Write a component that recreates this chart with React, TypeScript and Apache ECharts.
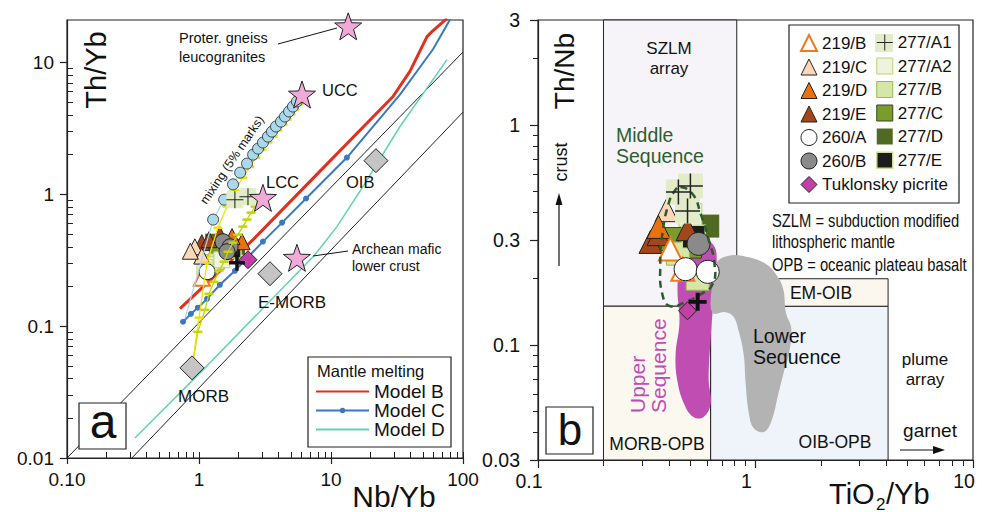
import React, { useEffect, useRef } from 'react';
import * as echarts from 'echarts';

const L = (v: number) => Math.log10(v);
const FONT = '"Liberation Sans", Arial, Helvetica, sans-serif';

// ================= Panel (a): Th/Yb vs Nb/Yb =================
const aNbYbTicks = [0.1, 1, 10, 100];
const aNbYbTickText = ['0.10', '1', '10', '100'];
const aThYbTicks = [0.01, 0.1, 1, 10];
const aThYbTickText = ['0.01', '0.1', '1', '10'];
const aNbYbRange = [0.1, 100];
const aThYbRange = [0.01, 21];

const arrayUpperBound = [[0.1, 0.01], [100, 12]];
const arrayLowerBound = [[0.31, 0.01], [100, 4.2]];

const modelB = [[0.718, 0.136], [2.57, 0.453], [8.26, 1.5], [29.5, 5.52], [39.6, 8.55], [53.4, 15.7], [57.3, 16.9], [75.7, 21.6]];
const modelCDots = [[0.757, 0.108], [0.869, 0.124], [0.98, 0.138], [1.15, 0.161], [1.44, 0.206], [1.87, 0.263], [3.05, 0.438], [4.26, 0.61], [6.47, 0.93], [13.2, 1.9]];
const modelCUpper = [[33.3, 5.7], [59.3, 12.6], [79.8, 21.2]];
const modelD = [[0.327, 0.0142], [1.15, 0.05], [7.5, 0.345], [11.1, 0.569], [17.5, 1.15], [33.3, 3.27], [75.7, 10.5]];

const mixUccStart = [0.783, 0.114];
const mixUccCircles = [[1.28, 0.643], [1.55, 0.911], [1.81, 1.19], [2.05, 1.46], [2.31, 1.71], [2.57, 2.0], [2.8, 2.22], [3.05, 2.47], [3.33, 2.74], [3.57, 2.99], [3.83, 3.27], [4.18, 3.56], [4.48, 3.89], [4.81, 4.25], [5.15, 4.63], [5.52, 5.06], [6.03, 5.52]];
const mixMorbUccMarks = [[1.0, 0.116], [1.15, 0.303], [1.39, 0.558], [1.63, 0.807], [1.87, 1.07], [2.15, 1.34], [2.43, 1.62], [2.7, 1.9], [3.0, 2.18], [3.33, 2.47], [3.64, 2.74], [3.96, 3.05], [4.33, 3.38], [4.64, 3.69], [4.98, 4.03], [5.33, 4.4], [5.72, 4.8], [6.14, 5.24]];
const mixMorbLccMarks = [[0.98, 0.0906], [1.11, 0.133], [1.19, 0.176], [1.3, 0.217], [1.42, 0.264], [1.55, 0.308], [1.66, 0.367], [1.81, 0.43], [1.97, 0.494], [2.15, 0.569], [2.31, 0.643], [2.48, 0.726], [2.66, 0.807], [2.8, 0.865], [2.95, 0.912]];

const crustNames = ['Proter. gneiss leucogranites', 'UCC', 'LCC', 'Archean mafic lower crust'];
const crustNbYb = [13.5, 6.03, 3.05, 5.52];
const crustThYb = [18.8, 5.71, 0.94, 0.33];
const basaltNames = ['OIB', 'E-MORB', 'MORB'];
const basaltNbYb = [21.9, 3.45, 0.885];
const basaltThYb = [1.8, 0.25, 0.0483];

// samples, panel a: [Nb/Yb, Th/Yb]
const a219B = [[1.05, 0.233]];
const a219C = [[0.93, 0.4], [1.05, 0.34], [0.86, 0.37]];
const a219D = [[2.12, 0.437], [1.78, 0.478]];
const a219E = [[1.05, 0.43], [1.44, 0.494], [1.19, 0.453]];
const a260A = [[1.15, 0.259]];
const a260B = [[1.52, 0.437], [1.72, 0.4], [1.63, 0.367]];
const a277A1 = [[1.87, 0.91], [2.35, 0.96]];
const a277A2 = [[1.21, 0.292], [1.49, 0.319], [1.11, 0.278]];
const a277B = [[1.15, 0.303], [1.35, 0.31]];
const a277C = [[1.39, 0.38]];
const a277D = [[1.28, 0.437], [1.94, 0.4]];
const a277E = [[1.81, 0.378]];
const aTuklonsky = [[2.35, 0.319]];
const aOther = [[1.94, 0.303]];

// ================= Panel (b): Th/Nb vs TiO2/Yb =================
const bTiYbTicks = [0.1, 1, 10];
const bTiYbTickText = ['0.1', '1', '10'];
const bThNbTicks = [0.03, 0.1, 0.3, 1, 3];
const bThNbTickText = ['0.03', '0.1', '0.3', '1', '3'];
const bTiYbRange = [0.1, 10];
const bThNbRange = [0.03, 3];

const fieldNames = ['SZLM array', 'MORB-OPB', 'OIB-OPB', 'EM-OIB'];
const fieldTiYbMin = [0.2, 0.2, 0.622, 1.13];
const fieldTiYbMax = [0.82, 0.622, 4.07, 4.07];
const fieldThNbMin = [0.15, 0.03, 0.03, 0.15];
const fieldThNbMax = [3, 0.15, 0.15, 0.2];
const fieldColors = ['#f6f4f9', '#fbf8f0', '#eef4fa', '#fbf7ee'];

const upperSequenceField = [[0.502, 0.31], [0.635, 0.288], [0.663, 0.233], [0.642, 0.162], [0.622, 0.106], [0.609, 0.07], [0.622, 0.054], [0.577, 0.047], [0.519, 0.047], [0.472, 0.0533], [0.438, 0.068], [0.429, 0.09], [0.447, 0.127], [0.438, 0.18], [0.452, 0.241]];
const lowerSequenceField = [[0.635, 0.14], [0.628, 0.18], [0.656, 0.233], [0.745, 0.254], [0.92, 0.251], [1.12, 0.233], [1.24, 0.21], [1.34, 0.18], [1.38, 0.14], [1.46, 0.119], [1.43, 0.093], [1.35, 0.0754], [1.27, 0.0592], [1.18, 0.0447], [1.09, 0.0402], [0.98, 0.0419], [0.93, 0.0496], [0.9, 0.068], [0.883, 0.09], [0.838, 0.115], [0.794, 0.134], [0.73, 0.141]];
const middleSequenceOutline = [[0.452, 0.522], [0.514, 0.485], [0.56, 0.394], [0.608, 0.303], [0.648, 0.233], [0.635, 0.189], [0.56, 0.17], [0.477, 0.157], [0.406, 0.15], [0.373, 0.17], [0.365, 0.233], [0.373, 0.319], [0.398, 0.437], [0.425, 0.501]];

// samples, panel b: [TiO2/Yb, Th/Nb]
const b219B = [[0.406, 0.273], [0.463, 0.221]];
const b219C = [[0.39, 0.41]];
const b219D = [[0.358, 0.344]];
const b219E = [[0.329, 0.294], [0.358, 0.319], [0.487, 0.336]];
const b260A = [[0.477, 0.221], [0.603, 0.215]];
const b260B = [[0.547, 0.288]];
const b277A1 = [[0.442, 0.496], [0.502, 0.528], [0.487, 0.406]];
const b277A2 = [[0.502, 0.39]];
const b277B = [[0.542, 0.2], [0.44, 0.26]];
const b277C = [[0.406, 0.303], [0.5, 0.28]];
const b277D = [[0.603, 0.347]];
const b277E = [[0.52, 0.31]];
const bTuklonsky = [[0.487, 0.143]];
const bOther = [[0.542, 0.157]];

// ================= styles =================
const STAR = 'path://M50,2 L62,36 L98,37 L69,59 L80,95 L50,74 L20,95 L31,59 L2,37 L38,36 Z';
const CROSS_THIN = 'path://M4.7,0H5.3V4.7H10V5.3H5.3V10H4.7V5.3H0V4.7H4.7Z';
const CROSS_BOLD = 'path://M3.9,0H6.1V3.9H10V6.1H6.1V10H3.9V6.1H0V3.9H3.9Z';

const ST: any = {
  '219/B': { symbol: 'triangle', color: '#ffffff', border: '#ef7a1a', bw: 2 },
  '219/C': { symbol: 'triangle', color: '#fcd7b8', border: '#222', bw: 1 },
  '219/D': { symbol: 'triangle', color: '#e8720c', border: '#222', bw: 1 },
  '219/E': { symbol: 'triangle', color: '#a4461c', border: '#222', bw: 1 },
  '260/A': { symbol: 'circle', color: '#ffffff', border: '#222', bw: 1 },
  '260/B': { symbol: 'circle', color: '#8a8a8a', border: '#222', bw: 1 },
  '277/A1': { symbol: CROSS_THIN, color: '#222', border: '#222', bw: 0 },
  '277/A2': { symbol: 'rect', color: '#eef4dc', border: '#b9d07e', bw: 1 },
  '277/B': { symbol: 'rect', color: '#d6e6a6', border: '#98b850', bw: 1 },
  '277/C': { symbol: 'rect', color: '#7b9c2c', border: '#33461a', bw: 1 },
  '277/D': { symbol: 'rect', color: '#506a22', border: '#506a22', bw: 0 },
  '277/E': { symbol: 'rect', color: '#1c1c1c', border: '#cadf98', bw: 1.5 },
  'Tuklonsky picrite': { symbol: 'diamond', color: '#c23fa6', border: '#222', bw: 1 },
};

const toLog = (pts: number[][]) => pts.map((p) => [L(p[0]), L(p[1])]);

function minorTicks(lo: number, hi: number, majors: number[]) {
  const out: number[] = [];
  for (let e = Math.floor(L(lo)); e < Math.ceil(L(hi)); e++) {
    for (let m = 2; m <= 9; m++) {
      const v = m * Math.pow(10, e);
      if (v > lo * 1.0001 && v < hi * 0.9999 && !majors.some((t) => Math.abs(t - v) < 1e-9)) out.push(v);
    }
  }
  return out;
}

const labelFmt = (ticks: number[], texts: string[]) => (v: number) => {
  const i = ticks.findIndex((t) => Math.abs(L(t) - v) < 1e-6);
  return i >= 0 ? texts[i] : '';
};

function axisPair(dim: 'x' | 'y', grid: number, range: number[], majors: number[], texts: string[], minors: number[], opts: any) {
  const pos = dim === 'x' ? 'bottom' : 'left';
  const base = { gridIndex: grid, type: 'value', min: L(range[0]), max: L(range[1]), position: pos, splitLine: { show: false }, silent: true };
  return [
    {
      ...base,
      axisLine: { show: true, onZero: false, lineStyle: { color: '#222', width: 1.2 } },
      axisTick: { show: true, customValues: majors.map(L), inside: false, length: opts.majorLen, lineStyle: { color: '#222', width: 1.2 } },
      axisLabel: { show: true, customValues: majors.map(L), formatter: labelFmt(majors, texts), fontSize: opts.fontSize, fontFamily: FONT, color: '#111', margin: opts.margin, padding: opts.padding || 0, showMinLabel: true, showMaxLabel: true },
    },
    {
      ...base,
      axisLine: { show: false, onZero: false },
      axisTick: { show: true, customValues: minors.map(L), inside: opts.minorInside, length: opts.minorLen, lineStyle: { color: '#222', width: 1 } },
      axisLabel: { show: false },
    },
  ];
}

function scatter(name: string, pts: number[][], grid: number, st: any, size: number, z: number) {
  return {
    type: 'scatter', name, xAxisIndex: grid === 0 ? 0 : 2, yAxisIndex: grid === 0 ? 0 : 2,
    data: toLog(pts), symbol: st.symbol, symbolSize: size, clip: false, silent: true, z,
    itemStyle: { color: st.color, borderColor: st.border, borderWidth: st.bw, opacity: 1 },
  };
}

function line(name: string, data: any[], color: string, width: number, z: number, extra: any = {}) {
  return {
    type: 'line', name, xAxisIndex: 0, yAxisIndex: 0, data, symbol: 'none', showSymbol: false,
    lineStyle: { color, width }, itemStyle: { color }, silent: true, clip: true, z, ...extra,
  };
}

function polygonSeries(pts: number[][], style: any, z: number, smooth: number) {
  return {
    type: 'custom', xAxisIndex: 2, yAxisIndex: 2, silent: true, z,
    data: [[L(pts[0][0]), L(pts[0][1])]],
    renderItem: (_p: any, api: any) => ({
      type: 'polygon',
      shape: { points: pts.map((p) => api.coord([L(p[0]), L(p[1])])), smooth },
      style,
    }),
  };
}

const T = (text: string, x: number, y: number, size: number, o: any = {}) => ({
  type: 'text', x, y, rotation: o.rot || 0, scaleX: o.sx || 1, z: 100, silent: true,
  style: { text, fontSize: size, fontFamily: FONT, fill: o.color || '#111', align: o.align || 'left', verticalAlign: 'middle' },
});
const Ln = (x1: number, y1: number, x2: number, y2: number, w = 1) => ({
  type: 'line', z: 100, silent: true, shape: { x1, y1, x2, y2 }, style: { stroke: '#111', lineWidth: w },
});
const Box = (x: number, y: number, w: number, h: number, z = 100, fill = '#fff') => ({
  type: 'rect', z, silent: true, shape: { x, y, width: w, height: h }, style: { fill, stroke: '#222', lineWidth: 1.2 },
});

function buildOption() {
  const aXAxes = axisPair('x', 0, aNbYbRange, aNbYbTicks, aNbYbTickText, [...minorTicks(0.1, 100, aNbYbTicks), ...aNbYbTicks], { majorLen: 6, minorLen: 6, minorInside: true, fontSize: 19, margin: 12 });
  const aYAxes = axisPair('y', 0, aThYbRange, aThYbTicks, aThYbTickText, minorTicks(0.01, 19, aThYbTicks), { majorLen: 7, minorLen: 6, minorInside: true, fontSize: 19, margin: 13 });
  const bXAxes = axisPair('x', 1, bTiYbRange, bTiYbTicks, bTiYbTickText, minorTicks(0.1, 10, bTiYbTicks), { majorLen: 8, minorLen: 6, minorInside: false, fontSize: 19.5, margin: 11, padding: [0, 18, 0, 0] });
  const bYAxes = axisPair('y', 1, bThNbRange, bThNbTicks, bThNbTickText, minorTicks(0.03, 3, bThNbTicks), { majorLen: 8, minorLen: 5, minorInside: false, fontSize: 19.5, margin: 18 });

  const sampleOrderA: [string, number[][]][] = [
    ['277/D', a277D], ['277/C', a277C], ['277/B', a277B], ['277/A2', a277A2], ['277/E', a277E],
    ['219/E', a219E], ['219/C', a219C], ['219/D', a219D], ['260/B', a260B], ['219/B', a219B], ['260/A', a260A],
  ];
  const sampleOrderB: [string, number[][]][] = [
    ['277/D', b277D], ['277/C', b277C], ['277/B', b277B], ['277/A2', b277A2], ['277/E', b277E],
    ['219/E', b219E], ['219/C', b219C], ['219/D', b219D], ['260/B', b260B], ['219/B', b219B], ['260/A', b260A],
  ];

  const series: any[] = [];

  // ---- panel a ----
  series.push(line('arrayUpper', toLog(arrayUpperBound), '#222', 1, 2));
  series.push(line('arrayLower', toLog(arrayLowerBound), '#222', 1, 2));
  series.push(line('Model D', toLog(modelD), '#5fd3b3', 1.5, 3));
  series.push(line('Model B', toLog(modelB), '#e2301f', 3, 3));
  series.push(line('Model C', [
    ...modelCDots.map((p) => ({ value: [L(p[0]), L(p[1])], symbol: 'circle' })),
    ...modelCUpper.map((p) => ({ value: [L(p[0]), L(p[1])], symbol: 'none' })),
  ], '#3a78c2', 2, 3, { symbol: 'circle', showSymbol: true, symbolSize: 6 }));

  sampleOrderA.forEach(([n, d]) => series.push(scatter(n, d, 0, ST[n], 16, 5)));

  series.push(line('mixLCC', [{ value: [L(basaltNbYb[2]), L(basaltThYb[2])], symbol: 'none' }, ...mixMorbLccMarks.map((p) => ({ value: [L(p[0]), L(p[1])] })), { value: [L(crustNbYb[2]), L(crustThYb[2])], symbol: 'none' }],
    '#c3d600', 1.3, 6, { symbol: 'rect', showSymbol: true, symbolSize: [9, 2.5] }));
  series.push(line('mixUCCy', [{ value: [L(basaltNbYb[2]), L(basaltThYb[2])], symbol: 'none' }, ...mixMorbUccMarks.map((p) => ({ value: [L(p[0]), L(p[1])] })), { value: [L(crustNbYb[1]), L(crustThYb[1])], symbol: 'none' }],
    '#f0e200', 1.3, 6, { symbol: 'rect', showSymbol: true, symbolSize: [9, 2.5] }));
  series.push(line('mixUCC', [{ value: [L(mixUccStart[0]), L(mixUccStart[1])], symbol: 'none' }, ...mixUccCircles.map((p) => ({ value: [L(p[0]), L(p[1])] }))],
    '#a9d9ea', 1.2, 6.5, { symbol: 'circle', showSymbol: true, symbolSize: 11, itemStyle: { color: '#a9d9ea', borderColor: '#222', borderWidth: 0.8 } }));

  series.push(scatter('a1bg', a277A1, 0, { symbol: 'rect', color: '#e2ecc8', border: '#e2ecc8', bw: 0 }, 17, 6.8));
  series.push(scatter('277/A1', a277A1, 0, ST['277/A1'], 17, 6.9));
  series.push(scatter('crust', crustNbYb.map((x, i) => [x, crustThYb[i]]), 0, { symbol: STAR, color: '#f1a9d8', border: '#222', bw: 1 }, 27, 7));
  series.push(scatter('basalts', basaltNbYb.map((x, i) => [x, basaltThYb[i]]), 0, { symbol: 'diamond', color: '#c4c4c4', border: '#222', bw: 1 }, 24, 7));
  series.push(scatter('Tuklonsky picrite', aTuklonsky, 0, ST['Tuklonsky picrite'], 18, 7));
  series.push(scatter('other', aOther, 0, { symbol: CROSS_BOLD, color: '#111', border: '#111', bw: 0 }, 16, 7.2));

  // ---- panel b ----
  series.push({
    type: 'custom', xAxisIndex: 2, yAxisIndex: 2, silent: true, z: 1,
    encode: { x: [0, 2], y: [1, 3] },
    data: fieldNames.map((_n, i) => [L(fieldTiYbMin[i]), L(fieldThNbMin[i]), L(fieldTiYbMax[i]), L(fieldThNbMax[i])]),
    renderItem: (params: any, api: any) => {
      const p0 = api.coord([api.value(0), api.value(3)]);
      const p1 = api.coord([api.value(2), api.value(1)]);
      return { type: 'rect', shape: { x: p0[0], y: p0[1], width: p1[0] - p0[0], height: p1[1] - p0[1] }, style: { fill: fieldColors[params.dataIndex], stroke: '#222', lineWidth: 1 } };
    },
  });
  series.push(polygonSeries(upperSequenceField, { fill: '#bf4db2', stroke: 'none' }, 2, 0.4));
  series.push(polygonSeries(lowerSequenceField, { fill: '#b3b3b3', stroke: 'none' }, 2, 0.4));
  sampleOrderB.slice(0, 5).forEach(([n, d]) => series.push(scatter(n, d, 1, ST[n], 23, 5)));
  sampleOrderB.slice(5).forEach(([n, d]) => series.push(scatter(n, d, 1, ST[n], 23, 6)));
  series.push(scatter('b1bg', b277A1, 1, { symbol: 'rect', color: '#e2ecc8', border: '#e2ecc8', bw: 0 }, 25, 6.8));
  series.push(polygonSeries(middleSequenceOutline, { fill: 'none', stroke: '#2d5a2d', lineWidth: 2.5, lineDash: [7, 5] }, 6.85, 0.5));
  series.push(scatter('277/A1', b277A1, 1, ST['277/A1'], 25, 6.9));
  series.push(scatter('Tuklonsky picrite', bTuklonsky, 1, ST['Tuklonsky picrite'], 18, 7));
  series.push(scatter('other', bOther, 1, { symbol: CROSS_BOLD, color: '#111', border: '#111', bw: 0 }, 18, 7.2));

  const legendItem = (n: string) => ({ name: n, icon: ST[n].symbol, itemStyle: { color: ST[n].color, borderColor: ST[n].border, borderWidth: ST[n].bw } });
  const legText = { fontSize: 17, fontFamily: FONT, color: '#111' };
  const noDot = { color: 'rgba(0,0,0,0)', borderColor: 'rgba(0,0,0,0)', borderWidth: 0 };

  const graphic: any[] = [
    // panel a annotations
    T('Proter. gneiss', 179, 38, 14.5), T('leucogranites', 179, 57, 14.5), Ln(278, 44, 337, 28),
    T('UCC', 322, 90, 16.5), T('LCC', 266, 182, 16.5), T('OIB', 346, 182, 16.5),
    T('Archean mafic', 352, 249, 14), T('lower crust', 352, 266, 14), Ln(313, 256, 348, 251),
    T('E-MORB', 258, 302, 17), T('MORB', 178, 396, 17),
    T('mixing (5% marks)', 232, 160, 12.5, { align: 'center', rot: (56 * Math.PI) / 180 }),
    Box(308, 357, 143, 90, 3), T('Mantle melting', 317, 371, 16.5),
    Box(79, 403, 47, 46), T('a', 103, 421, 48, { align: 'center' }),
    T('Th/Yb', 96, 70, 29, { align: 'center', rot: Math.PI / 2 }),
    T('Nb/Yb', 394, 496, 30, { align: 'center' }),
    // panel b annotations
    T('SZLM', 669, 48, 17, { align: 'center' }), T('array', 669, 68, 17, { align: 'center' }),
    T('Middle', 616, 135, 19.5, { color: '#2e5e2e' }), T('Sequence', 616, 156, 19.5, { color: '#2e5e2e' }),
    T('SZLM = subduction modified', 772, 220, 18, { sx: 0.82 }),
    T('lithospheric mantle', 772, 241, 18, { sx: 0.82 }),
    T('OPB = oceanic plateau basalt', 772, 264, 18, { sx: 0.82 }),
    T('EM-OIB', 821, 293, 17.5, { align: 'center' }),
    T('Lower', 753, 336, 19.5), T('Sequence', 753, 357, 19.5),
    T('plume', 925, 359, 17, { align: 'center' }), T('array', 925, 379, 17, { align: 'center' }),
    T('garnet', 930, 430, 19, { align: 'center' }),
    Ln(900, 450, 936, 450, 1.2),
    { type: 'polygon', z: 100, silent: true, shape: { points: [[945, 450], [933, 446], [933, 454]] }, style: { fill: '#111' } },
    T('OIB-OPB', 835, 442, 17.5, { align: 'center' }),
    T('MORB-OPB', 657, 444, 17.5, { align: 'center' }),
    T('Upper', 637, 413, 21, { rot: Math.PI / 2, color: '#c04db5' }),
    T('Sequence', 658, 413, 21, { rot: Math.PI / 2, color: '#c04db5' }),
    T('crust', 561, 162, 18, { align: 'center', rot: Math.PI / 2 }),
    Ln(559, 266, 559, 203, 1.2),
    { type: 'polygon', z: 100, silent: true, shape: { points: [[559, 193], [555.5, 205], [562.5, 205]] }, style: { fill: '#111' } },
    T('Th/Nb', 564, 71, 28, { align: 'center', rot: Math.PI / 2 }),
    T('TiO', 829, 494, 29), T('2', 876, 504, 17), T('/Yb', 886, 494, 29),
    Box(546, 407, 47, 47), T('b', 570, 429, 44, { align: 'center' }),
    Box(789, 25, 170, 178, 3),
    { type: 'rect', z: 3.5, silent: true, shape: { x: 875, y: 34, width: 18, height: 18 }, style: { fill: '#e2ecc8' } },
  ];

  return {
    animation: false,
    backgroundColor: '#ffffff',
    textStyle: { fontFamily: FONT },
    grid: [
      { left: 67, top: 20, width: 396, height: 438, show: true, borderColor: '#222', borderWidth: 1.2, backgroundColor: 'transparent' },
      { left: 538, top: 20, width: 435, height: 440, show: true, borderColor: '#222', borderWidth: 1.2, backgroundColor: 'transparent' },
    ],
    xAxis: [...aXAxes, ...bXAxes],
    yAxis: [...aYAxes, ...bYAxes],
    legend: [
      { left: 315, top: 382, padding: 0, orient: 'vertical', itemWidth: 53, itemHeight: 7, itemGap: 0, selectedMode: false, z: 4,
        data: [{ name: 'Model B', itemStyle: noDot }, { name: 'Model C' }, { name: 'Model D', itemStyle: noDot }],
        textStyle: { fontSize: 19, fontFamily: FONT, color: '#111', lineHeight: 19 } },
      { left: 800, top: 34, padding: 0, orient: 'vertical', itemWidth: 16, itemHeight: 16, itemGap: 6.5, selectedMode: false, z: 4,
        data: ['219/B', '219/C', '219/D', '219/E', '260/A', '260/B', 'Tuklonsky picrite'].map(legendItem), textStyle: { ...legText, lineHeight: 16 } },
      { left: 876, top: 34, padding: 0, orient: 'vertical', itemWidth: 16, itemHeight: 16, itemGap: 6.5, selectedMode: false, z: 4,
        data: ['277/A1', '277/A2', '277/B', '277/C', '277/D', '277/E'].map(legendItem), textStyle: { ...legText, lineHeight: 16 } },
    ],
    series,
    graphic,
  };
}

export default function App() {
  const ref = useRef<HTMLDivElement>(null);
  useEffect(() => {
    const chart = echarts.init(ref.current as HTMLDivElement, null, { renderer: 'svg' });
    chart.setOption(buildOption() as any);
    return () => chart.dispose();
  }, []);
  return <div ref={ref} style={{ position: 'absolute', left: 0, top: 0, width: 982, height: 512, background: '#fff' }} />;
}
